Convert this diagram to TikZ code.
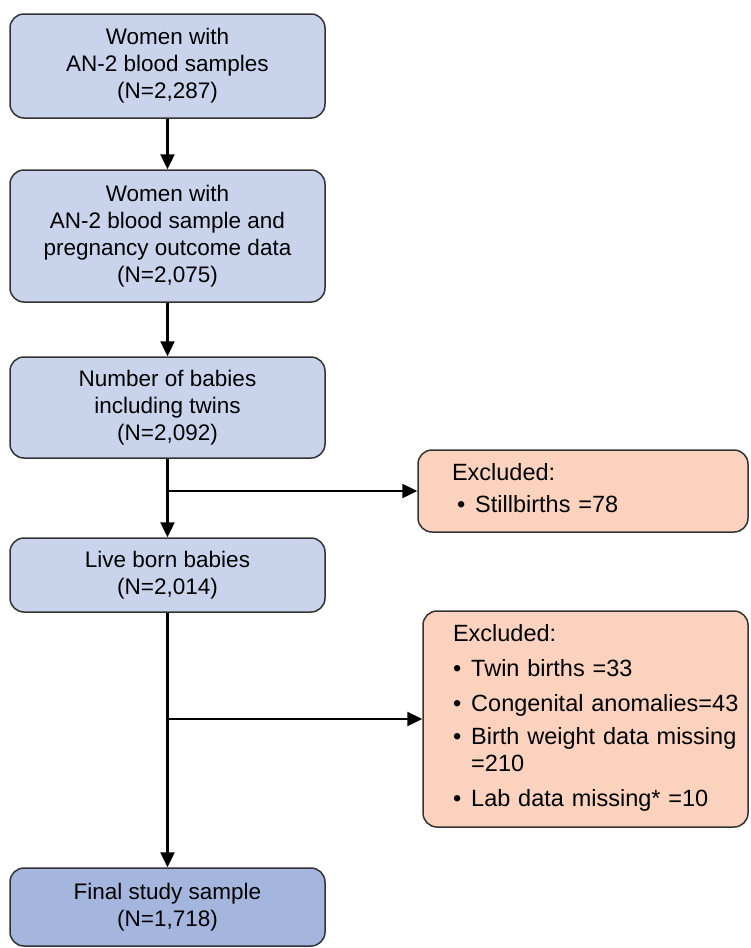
\documentclass[tikz,border=0pt]{standalone}
\usepackage{fontspec}
\setmainfont{Liberation Sans}
\usetikzlibrary{arrows.meta}
\definecolor{boxblue}{RGB}{201,212,236}
\definecolor{finalblue}{RGB}{164,182,222}
\definecolor{exclpeach}{RGB}{250,210,190}

\begin{document}
\begin{tikzpicture}[
  x=1pt,y=-1pt,
  every node/.style={draw=black!80,line width=1.5pt,rounded corners=14pt,inner sep=0pt,
    font=\fontsize{22.5}{27}\selectfont},
  stage/.style={fill=boxblue,minimum width=315pt,align=center},
  excl/.style={fill=exclpeach,align=left,font=\fontsize{23.5}{27}\selectfont},
  flow/.style={line width=2.4pt,-{Triangle[length=15pt,width=14pt]}}
]
\useasboundingbox (0,0) rectangle (750,948);

\node[stage,minimum height=104pt] (b1) at (167.5,66) {Women with\\AN-2 blood samples\\(N=2,287)};
\node[stage,minimum height=132pt] (b2) at (167.5,236) {Women with\\AN-2 blood sample and\\pregnancy outcome data\\(N=2,075)};
\node[stage,minimum height=101pt] (b3) at (167.5,407.5) {Number of babies\\including twins\\(N=2,092)};
\node[stage,minimum height=74pt] (b4) at (167.5,575) {Live born babies\\(N=2,014)};
\node[stage,fill=finalblue,minimum height=78pt] (b5) at (167.5,907) {Final study sample\\(N=1,718)};

\node[excl,minimum width=330pt,minimum height=82pt,text width=262pt] (x1) at (583,491) {%
  \begin{tabular}{@{}l@{\hspace{10pt}}l@{}}
  \multicolumn{2}{@{}l}{Excluded:}\\[5pt]
  \hspace{5pt}\textbullet & Stillbirths =78
  \end{tabular}};
\node[excl,minimum width=325pt,minimum height=216pt,text width=265pt] (x2) at (585.5,719) {%
  \begin{tabular}{@{}l@{\hspace{10pt}}l@{}}
  \multicolumn{2}{@{}l}{Excluded:}\\[8pt]
  \textbullet & Twin births =33\\[8pt]
  \textbullet & Congenital anomalies=43\\[6pt]
  \textbullet & Birth weight data missing\\
   & =210\\[8pt]
  \textbullet & Lab data missing* =10
  \end{tabular}};

\coordinate (j1) at (b3.south |- x1.west);
\coordinate (j2) at (b4.south |- x2.west);

\draw[flow] (b1) -- (b2);
\draw[flow] (b2) -- (b3);
\draw[flow] (b3) -- (b4);
\draw[flow] (j1) -- (x1);
\draw[flow] (b4) -- (b5);
\draw[flow] (j2) -- (x2);
\end{tikzpicture}
\end{document}
